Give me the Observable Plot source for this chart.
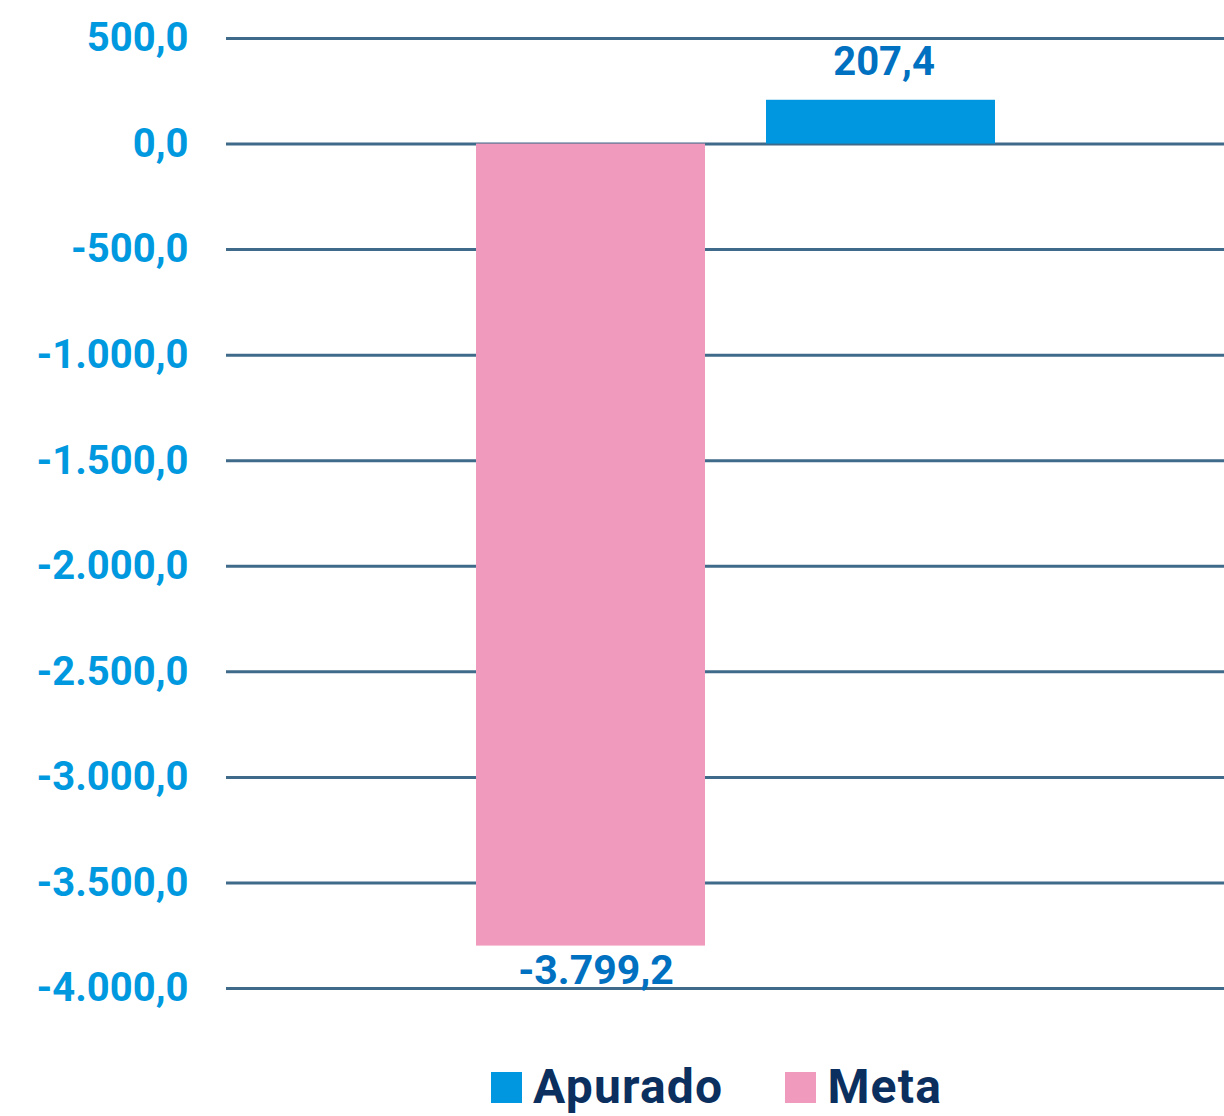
<!DOCTYPE html>
<html>
<head>
<meta charset="utf-8">
<script src="https://cdn.jsdelivr.net/npm/d3@7"></script>
<script src="https://cdn.jsdelivr.net/npm/@observablehq/plot@0.6"></script>
<style>
  html, body { margin: 0; padding: 0; background: #fff; overflow: hidden; }
  #wrap { position: relative; width: 1224px; height: 1116px; overflow: hidden; }
  #legend { position: absolute; left: 491px; top: 1063px; display: flex; align-items: flex-start;
    font-family: Roboto, "Noto Sans", sans-serif; font-weight: 700; font-size: 48px; line-height: 48px; letter-spacing: 1.2px; color: #0b2f5e; white-space: nowrap; }
  #legend .item { display: flex; align-items: flex-start; }
  #legend .sw { width: 31px; height: 31px; margin-right: 11px; margin-top: 9px; }
</style>
</head>
<body>
<div id="wrap"><div id="chart"></div><div id="legend"></div></div>
<script>
const categories = ["Meta", "Apurado"];
const values = [-3799.2, 207.4];
const colors = ["#f09bbd", "#0096e0"];
const legendOrder = ["Apurado", "Meta"];
const yTicks = [500, 0, -500, -1000, -1500, -2000, -2500, -3000, -3500, -4000];

const locale = d3.formatLocale({decimal: ",", thousands: ".", grouping: [3], currency: ["R$", ""], minus: "-"});
const fmt = locale.format(",.1f");

const data = categories.map((c, i) => ({cat: c, value: values[i], color: colors[i]}));

const chart = Plot.plot({
  width: 1224,
  height: 1040,
  marginLeft: 226,
  marginRight: 0,
  marginTop: 38,
  marginBottom: 52,
  style: {fontFamily: "Roboto, 'Noto Sans', sans-serif", background: "#fff"},
  x: {domain: categories, range: [415, 1056], padding: 0.2103, axis: null},
  y: {domain: [-4000, 500], ticks: yTicks},
  marks: [
    Plot.ruleY(yTicks, {stroke: "#3f6a8a", strokeWidth: 3}),
    Plot.barY(data, {x: "cat", y: "value", fill: "color"}),
    Plot.axisY(yTicks, {tickSize: 0, tickPadding: 38, tickFormat: fmt, fill: "#0099e0",
      fontSize: 40, fontWeight: 700, label: null}),
    Plot.text(data.filter(d => d.value >= 0), {x: "cat", y: "value", text: d => fmt(d.value),
      dy: -38, dx: 3, fill: "#0070c0", fontSize: 40, fontWeight: 700, lineAnchor: "middle"}),
    Plot.text(data.filter(d => d.value < 0), {x: "cat", y: "value", text: d => fmt(d.value),
      dy: 25, dx: 5, fill: "#0070c0", fontSize: 41, fontWeight: 700, lineAnchor: "middle"})
  ]
});
document.getElementById("chart").appendChild(chart);

const legend = document.getElementById("legend");
legendOrder.forEach((name, i) => {
  const idx = categories.indexOf(name);
  const item = document.createElement("div");
  item.className = "item";
  if (i > 0) item.style.marginLeft = "62px";
  const sw = document.createElement("div");
  sw.className = "sw";
  sw.style.background = colors[idx];
  const t = document.createElement("span");
  t.textContent = name;
  item.appendChild(sw); item.appendChild(t);
  legend.appendChild(item);
});
</script>
</body>
</html>
